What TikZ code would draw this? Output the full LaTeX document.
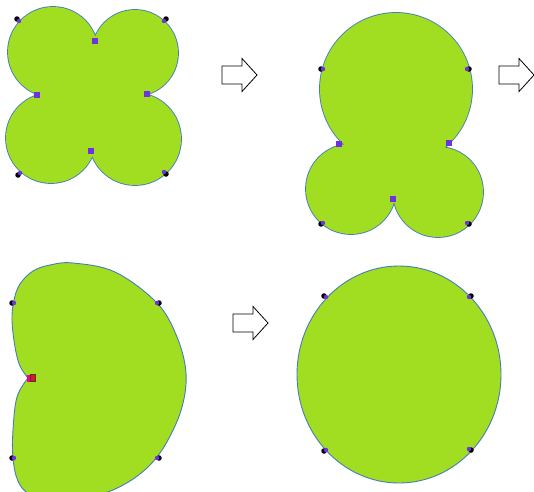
\documentclass[tikz,border=0pt]{standalone}
\usepackage{xcolor}
\usepackage{tikz}
\definecolor{leaf}{RGB}{161,222,34}
\definecolor{rim}{RGB}{70,125,185}
\definecolor{handle}{RGB}{110,50,225}
\definecolor{cusp}{RGB}{185,40,40}
\begin{document}
\begin{tikzpicture}[x=1pt,y=-1pt,
  rimline/.style={draw=rim,line width=1.8pt},
  blob/.style={fill=leaf},
  sqmark/.style={rectangle,fill=handle,inner sep=0pt,minimum size=6pt},
  ptmark/.style={circle,fill=black,inner sep=0pt,minimum size=5.5pt},
  flowarrow/.style={draw=black,line width=0.8pt,fill=white}]
  \useasboundingbox (0,0) rectangle (534,491);
  \clip (0,0) rectangle (534,491);

  % four lobes
  \draw[rimline] (53,52) circle (45) (135,53) circle (43)
    (51,138) circle (45) (135,139) circle (46);
  \fill[blob] (53,52) circle (45) (135,53) circle (43)
    (51,138) circle (45) (135,139) circle (46);
  \fill[blob] (53,52) -- (135,53) -- (135,139) -- (51,138) -- cycle;

  % three lobes
  \draw[rimline] (396,89) circle (76) (351,189) circle (45) (438,192) circle (45);
  \fill[blob] (396,89) circle (76) (351,189) circle (45) (438,192) circle (45);
  \fill[blob] (396,89) -- (438,192) -- (351,189) -- cycle;

  % two lobes
  \filldraw[blob,draw=rim,line width=0.9pt] plot[smooth,tension=0.6] coordinates {
    (28,378) (20,366) (15,347) (12,320) (14,300) (20,284) (33,271) (50,265)
    (73,263) (115,272) (157,303) (177,337) (186,373) (182,407)
    (168,440) (150,465) (125,484) (95,496) (60,500) (30,494) (18,481)
    (13,458) (13,430) (17,397) (28,378)} -- cycle;

  % one lobe
  \filldraw[blob,draw=rim,line width=0.9pt] (399,374.5) ellipse (102 and 108.5);

  % handles at the joins
  \node[sqmark] (n1) at (95,41) {};
  \node[sqmark] (n2) at (37,95) {};
  \node[sqmark] (n3) at (147,94) {};
  \node[sqmark] (n4) at (91,151) {};
  \node[sqmark] (m1) at (339,144) {};
  \node[sqmark] (m2) at (449,143) {};
  \node[sqmark] (m3) at (393,199) {};
  \fill[magenta] (26.5,375) rectangle (31,382);
  \node[rectangle,fill=cusp,draw=cusp!70!black,line width=0.6pt,
    minimum width=5pt,minimum height=7pt,inner sep=0pt] (k1) at (32.5,378.2) {};

  % corner points
  \foreach \px/\py/\dx/\dy [count=\i] in {
      17/19/2/2, 166/19/-2/2, 18/175/2/-2, 166/174/-2/-2,
      321/69/2/0, 469/69/-2/0, 321/224/2/-1, 469/224/-2/-1,
      12/303/2/0, 159/303/-2/0, 12/458/2/0, 159/458/-2/0,
      324/296/2/1, 471/296/-2/1, 324/451/2/-1, 471/450/-2/-1} {
    \node[ptmark] (c\i) at (\px,\py) {};
    \fill[handle] ([shift={(\dx,\dy)}]c\i.center) circle (2.2);
  }

  % step arrows
  \foreach \ax/\ay in {222/75, 499/75, 233/323}
    \draw[flowarrow] (\ax,\ay-9) -- ++(20,0) -- ++(0,-7.5) -- ++(15,16.5)
      -- ++(-15,16.5) -- ++(0,-7.5) -- ++(-20,0) -- cycle;
\end{tikzpicture}
\end{document}
